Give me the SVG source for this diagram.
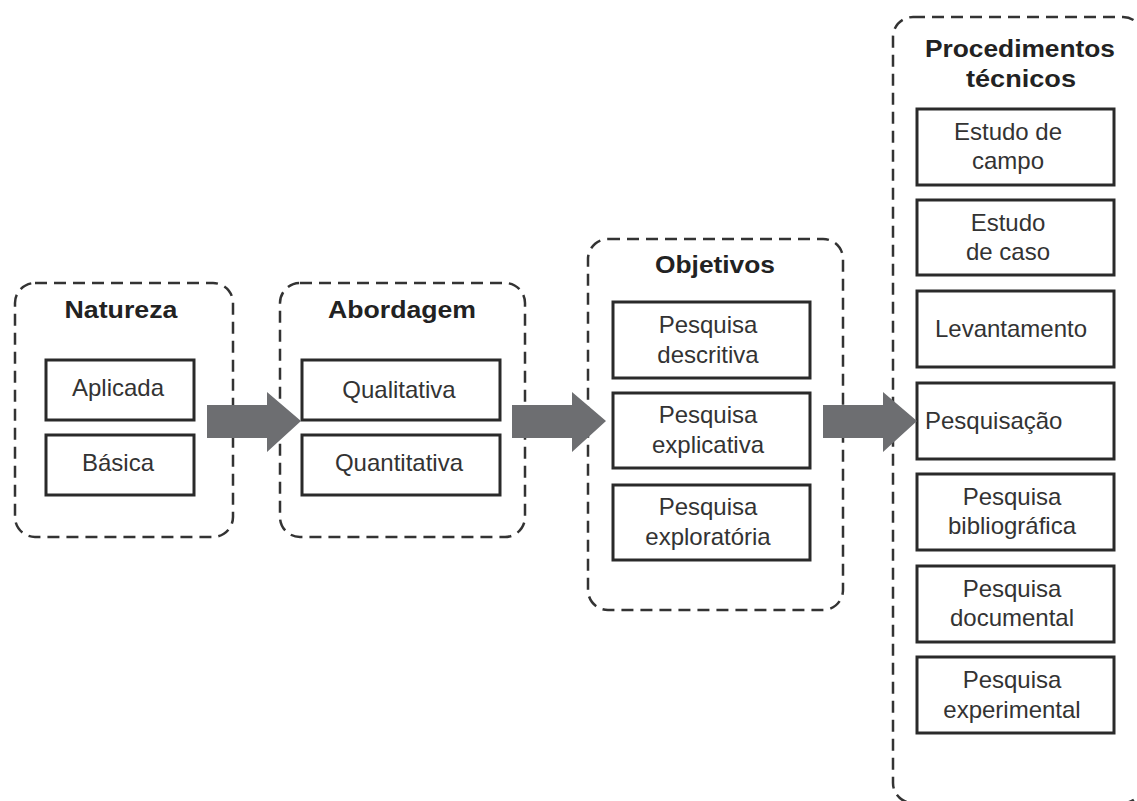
<svg xmlns="http://www.w3.org/2000/svg" width="1137" height="801" viewBox="0 0 1137 801">
<style>
.grp{fill:none;stroke:#333;stroke-width:2.5;stroke-dasharray:12 7}
.box{fill:#fff;stroke:#2a2a2a;stroke-width:3}
.ttl{font-family:"Liberation Sans",Arial,sans-serif;font-weight:bold;font-size:23px;fill:#222;text-anchor:middle}
.lbl{font-family:"Liberation Sans",Arial,sans-serif;font-size:24px;fill:#333;text-anchor:middle}
.arr{fill:#6d6e71}
</style>
<rect width="1137" height="801" fill="#fff"/>
<g id="natureza">
<rect class="grp" x="15" y="283" width="218" height="254" rx="20"/>
<text class="ttl" x="121" y="318" textLength="113" lengthAdjust="spacingAndGlyphs">Natureza</text>
</g>
<g id="aplicada"><rect class="box" x="46" y="360" width="148" height="60"/><text class="lbl" x="118" y="396">Aplicada</text></g>
<g id="basica"><rect class="box" x="46" y="435" width="148" height="60"/><text class="lbl" x="118" y="471">Básica</text></g>

<g id="abordagem">
<rect class="grp" x="280" y="283" width="245" height="254" rx="20"/>
<text class="ttl" x="402" y="318" textLength="148" lengthAdjust="spacingAndGlyphs">Abordagem</text>
</g>
<g id="qualitativa"><rect class="box" x="302" y="360" width="198" height="60"/><text class="lbl" x="399" y="398">Qualitativa</text></g>
<g id="quantitativa"><rect class="box" x="302" y="435" width="198" height="60"/><text class="lbl" x="399" y="471">Quantitativa</text></g>

<g id="objetivos">
<rect class="grp" x="588" y="239" width="255" height="371" rx="20"/>
<text class="ttl" x="715" y="273" textLength="120" lengthAdjust="spacingAndGlyphs">Objetivos</text>
</g>
<g id="descritiva"><rect class="box" x="613" y="302" width="197" height="76"/><text class="lbl" x="708" y="333">Pesquisa</text><text class="lbl" x="708" y="363">descritiva</text></g>
<g id="explicativa"><rect class="box" x="613" y="393" width="197" height="75"/><text class="lbl" x="708" y="423">Pesquisa</text><text class="lbl" x="708" y="453">explicativa</text></g>
<g id="exploratoria"><rect class="box" x="613" y="485" width="197" height="75"/><text class="lbl" x="708" y="515">Pesquisa</text><text class="lbl" x="708" y="545">exploratória</text></g>

<g id="procedimentos">
<rect class="grp" x="893" y="17" width="250" height="786" rx="20"/>
<text class="ttl" x="1020" y="57" textLength="190" lengthAdjust="spacingAndGlyphs">Procedimentos</text>
<text class="ttl" x="1021" y="87" textLength="110" lengthAdjust="spacingAndGlyphs">técnicos</text>
</g>
<g id="campo"><rect class="box" x="917" y="109" width="197" height="76"/><text class="lbl" x="1008" y="140">Estudo de</text><text class="lbl" x="1008" y="169">campo</text></g>
<g id="caso"><rect class="box" x="917" y="200" width="197" height="75"/><text class="lbl" x="1008" y="231">Estudo</text><text class="lbl" x="1008" y="260">de caso</text></g>
<g id="levantamento"><rect class="box" x="917" y="291" width="197" height="76"/><text class="lbl" x="1011" y="337">Levantamento</text></g>
<g id="pesquisacao"><rect class="box" x="917" y="383" width="197" height="76"/><text class="lbl" x="925" y="429" style="text-anchor:start">Pesquisação</text></g>
<g id="bibliografica"><rect class="box" x="917" y="474" width="197" height="76"/><text class="lbl" x="1012" y="505">Pesquisa</text><text class="lbl" x="1012" y="534">bibliográfica</text></g>
<g id="documental"><rect class="box" x="917" y="566" width="197" height="76"/><text class="lbl" x="1012" y="597">Pesquisa</text><text class="lbl" x="1012" y="626">documental</text></g>
<g id="experimental"><rect class="box" x="917" y="657" width="197" height="76"/><text class="lbl" x="1012" y="688">Pesquisa</text><text class="lbl" x="1012" y="718">experimental</text></g>

<g id="connectors">
<path class="arr" d="M207 405 H267 V392 L301 421 L267 452 V438 H207 Z"/>
<path class="arr" d="M512 405 H572 V392 L606 421 L572 452 V438 H512 Z"/>
<path class="arr" d="M823 405 H883 V392 L917 421 L883 452 V438 H823 Z"/>
</g>
</svg>
